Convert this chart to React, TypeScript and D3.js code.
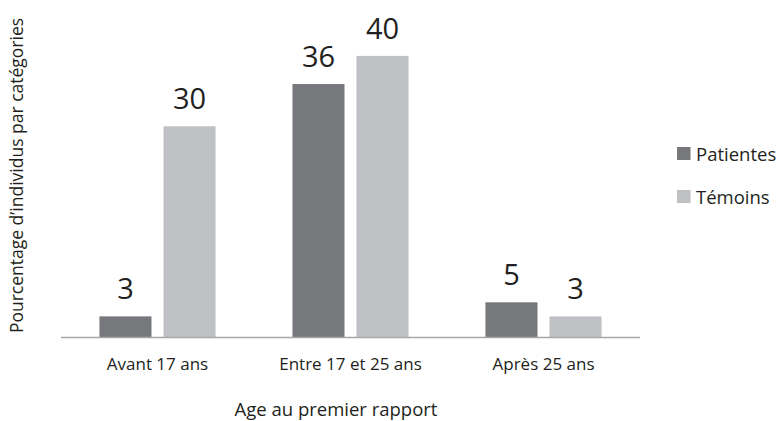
import React from "react";
import * as d3 from "d3";

const categories = ["Avant 17 ans", "Entre 17 et 25 ans", "Après 25 ans"];
const seriesNames = ["Patientes", "Témoins"];
const patientes = [3, 36, 5];
const temoins = [30, 40, 3];
const seriesColors = ["#77787b", "#bfc0c4"];

const W = 781;
const H = 421;
const FONT = "'Open Sans', 'Noto Sans', sans-serif";
const TEXT = "#231f20";

export default function App() {
  const x0 = d3.scaleBand<string>().domain(categories).range([61, 640]).padding(0);
  const x1 = d3
    .scaleBand<string>()
    .domain(seriesNames)
    .range([0, x0.bandwidth()])
    .paddingInner(0.1875)
    .paddingOuter(0.6);
  const y = d3.scaleLinear().domain([0, 45]).range([337.5, 20.7]);
  const values = [patientes, temoins];

  return (
    <svg
      width={W}
      height={H}
      style={{ position: "absolute", left: 0, top: 0, background: "#fff" }}
      fontFamily={FONT}
    >
      {categories.map((c, ci) => (
        <g key={c} transform={`translate(${x0(c)},0)`}>
          {seriesNames.map((s, si) => {
            const v = values[si][ci];
            const bx = x1(s)!;
            return (
              <g key={s}>
                <rect
                  x={bx}
                  y={y(v)}
                  width={x1.bandwidth()}
                  height={y(0) - y(v)}
                  fill={seriesColors[si]}
                />
                <text
                  x={bx + x1.bandwidth() / 2}
                  y={y(v) - 17}
                  textAnchor="middle"
                  fontSize={29}
                  fill={TEXT}
                >
                  {v}
                </text>
              </g>
            );
          })}
          <text
            x={x0.bandwidth() / 2}
            y={370}
            textAnchor="middle"
            fontSize={17}
            fill={TEXT}
          >
            {c}
          </text>
        </g>
      ))}
      <line x1={61} x2={640} y1={337.5} y2={337.5} stroke="#a6a6a6" strokeWidth={1.5} />
      <text x={336} y={416} textAnchor="middle" fontSize={18.5} fill={TEXT}>
        Age au premier rapport
      </text>
      <text
        transform={`translate(23,175.5) rotate(-90)`}
        textAnchor="middle"
        fontSize={17.5}
        fill={TEXT}
      >
        Pourcentage d’individus par catégories
      </text>
      {seriesNames.map((s, si) => (
        <g key={s} transform={`translate(677,${147 + si * 43})`}>
          <rect width={13.5} height={13} fill={seriesColors[si]} />
          <text x={19} y={14} fontSize={18.5} fill={TEXT}>
            {s}
          </text>
        </g>
      ))}
    </svg>
  );
}
